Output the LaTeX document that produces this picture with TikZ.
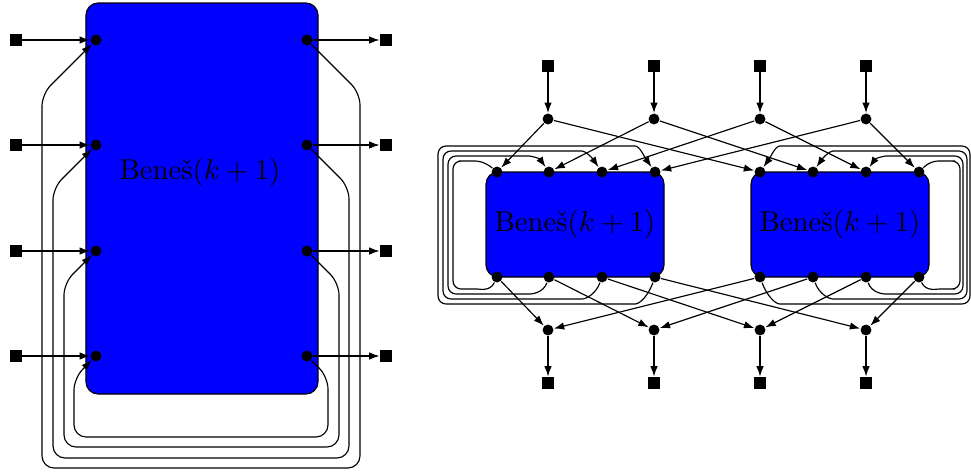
\documentclass[tikz,border=0pt]{standalone}
\usetikzlibrary{arrows.meta}
\begin{document}
\begin{tikzpicture}[x=0.348pt,y=-0.348pt,
  dot/.style={circle,fill=black,inner sep=0pt,minimum size=3.8pt},
  sq/.style={rectangle,fill=black,inner sep=0pt,minimum size=4.1pt},
  arr/.style={-{Latex[length=3.6pt,width=2.6pt]}},
  bbox/.style={draw=black,fill=blue,rounded corners=4.2pt,inner sep=0pt},
  bigloop/.style={rounded corners=4.2pt},
  smallloop/.style={rounded corners=2.8pt}]
\useasboundingbox (0,0) rectangle (971,474);

% ---------- left diagram ----------
\node[bbox,minimum width=80.74pt,minimum height=136.07pt] (BL) at (202,198.5) {};
\node (BLt) at (200,172) {Bene\v{s}$(k+1)$};
\foreach \y [count=\i] in {40,145,251,356}{
  \node[sq] (lin\i) at (16,\y) {};
  \node[dot] (ld\i) at (96,\y) {};
  \node[dot] (rd\i) at (307,\y) {};
  \node[sq] (lout\i) at (386,\y) {};
  \draw[arr] (lin\i) -- (ld\i);
  \draw[arr] (rd\i) -- (lout\i);
}
\foreach \i/\xr/\yr/\xl/\yl/\yb in {1/360/93/42/94/468, 2/349/187/53/188/458, 3/339/283/64/283/447, 4/328/377/74/378/437}{
  \draw[arr,bigloop] (rd\i) -- (\xr,\yr) -- (\xr,\yb) -- (\xl,\yb) -- (\xl,\yl) -- (ld\i);
}

% ---------- right diagram ----------
\node[bbox,minimum width=61.94pt,minimum height=36.54pt] (BA) at (575,224.5) {Bene\v{s}$(k+1)$};
\node[bbox,minimum width=61.94pt,minimum height=36.54pt] (BB) at (840,224.5) {Bene\v{s}$(k+1)$};
\foreach \x [count=\i] in {548,654,760,866}{
  \node[sq] (ts\i) at (\x,66) {};
  \node[dot] (u\i) at (\x,119) {};
  \node[dot] (lo\i) at (\x,330) {};
  \node[sq] (bs\i) at (\x,383) {};
  \draw[arr] (ts\i) -- (u\i);
  \draw[arr] (lo\i) -- (bs\i);
}
\foreach \x [count=\i] in {497,549,602,655}{
  \node[dot] (a\i) at (\x,172) {};
  \node[dot] (ab\i) at (\x,277) {};
}
\foreach \x [count=\i] in {760,813,866,919}{
  \node[dot] (b\i) at (\x,172) {};
  \node[dot] (bb\i) at (\x,277) {};
}
\foreach \i in {1,2,3,4}{
  \draw[arr] (u\i) -- (a\i);
  \draw[arr] (u\i) -- (b\i);
  \draw[arr] (ab\i) -- (lo\i);
  \draw[arr] (bb\i) -- (lo\i);
}
% loops around box A
\draw[smallloop] (ab1) to[out=-115,in=0] (469,289) -- (453,289) -- (453,161) -- (467,161) to[out=0,in=140] (a1);
\foreach \i/\hx/\xl/\yt/\yb in {2/521/448/156/294, 3/574/443/151/299, 4/627/438/146/304}{
  \draw[arr,smallloop] (ab\i) to[out=-110,in=0] (\hx,\yb) -- (\xl,\yb) -- (\xl,\yt) -- (\hx,\yt) to[out=0,in=125] (a\i);
}
% loops around box B
\draw[smallloop] (bb4) to[out=-65,in=180] (947,289) -- (960,289) -- (960,161) -- (947,161) to[out=180,in=45] (b4);
\foreach \i/\hx/\xr/\yt/\yb in {1/788/970/146/304, 2/841/967/151/299, 3/894/963/156/294}{
  \draw[arr,smallloop] (bb\i) to[out=-70,in=180] (\hx,\yb) -- (\xr,\yb) -- (\xr,\yt) -- (\hx,\yt) to[out=180,in=55] (b\i);
}
\end{tikzpicture}
\end{document}
